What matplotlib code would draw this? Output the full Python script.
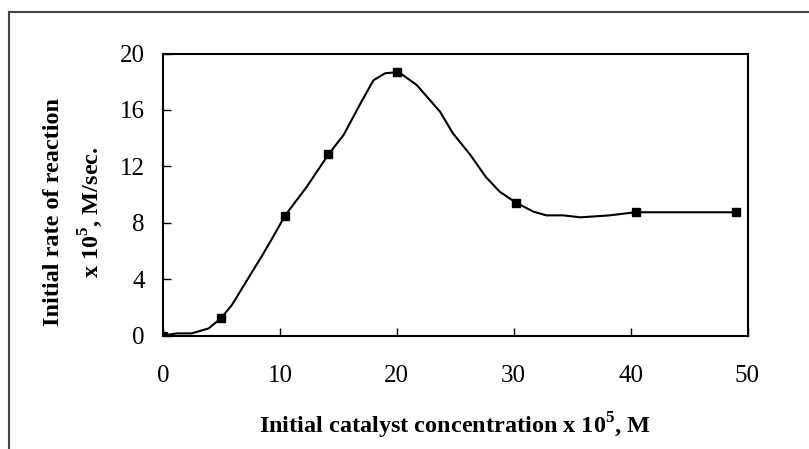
import matplotlib
matplotlib.use("Agg")
import matplotlib.pyplot as plt
from matplotlib.lines import Line2D

# measured points (markers)
conc = [0, 4.95, 10.4, 14.15, 20.0, 30.2, 40.45, 49.0]
rate = [0.0, 1.22, 8.46, 12.84, 18.67, 9.42, 8.74, 8.74]

# smooth curve drawn through the data
curve_x = [0, 1.2, 2.45, 3.9, 4.95, 5.9, 7.2, 8.6, 9.75, 10.4, 12.3, 14.15,
           15.45, 16.9, 18.0, 19.0, 20.0, 20.3, 21.7, 23.7, 24.8, 26.3,
           27.6, 28.8, 30.2, 31.7, 32.8, 34.25, 35.7, 38.2, 39.7, 40.45, 49.0]
curve_y = [0.0, 0.15, 0.15, 0.5, 1.22, 2.17, 3.94, 5.83, 7.48, 8.46, 10.55,
           12.84, 14.22, 16.47, 18.1, 18.6, 18.67, 18.6, 17.77, 15.87, 14.34,
           12.8, 11.26, 10.2, 9.42, 8.78, 8.52, 8.52, 8.38, 8.52, 8.67,
           8.74, 8.74]

xticks = [0, 10, 20, 30, 40, 50]
yticks = [0, 4, 8, 12, 16, 20]

plt.rcParams['font.family'] = ['Liberation Serif', 'DejaVu Serif']
plt.rcParams['mathtext.fontset'] = 'custom'
plt.rcParams['mathtext.bf'] = 'Liberation Serif:bold'
plt.rcParams['mathtext.rm'] = 'Liberation Serif'

fig = plt.figure(figsize=(8.09, 4.49), dpi=100)
ax = fig.add_axes([163 / 809, 1 - 335.5 / 449, 584.5 / 809, 282 / 449])

ax.plot(curve_x, curve_y, color="black", linewidth=1.5)
ax.plot(conc, rate, linestyle="none", marker="s", markersize=5.5,
        color="black")

ax.set_xlim(0, 50)
ax.set_ylim(0, 20)
ax.set_xticks(xticks)
ax.set_yticks(yticks)
ax.tick_params(direction="in", length=6, width=1, labelsize=18)
ax.tick_params(axis="x", pad=21)
ax.tick_params(axis="y", pad=13)
for s in ax.spines.values():
    s.set_linewidth(1.5)

ax.set_xlabel(r"Initial catalyst concentration x 10$^{\mathbf{5}}$, M",
              fontsize=17.5, fontweight="bold", labelpad=17)
ax.set_ylabel("Initial rate of reaction\n" + r"x 10$^{\mathbf{5}}$, M/sec.",
              fontsize=17.5, fontweight="bold", linespacing=1.55)
ax.yaxis.set_label_coords(-0.1, 0.438)

# outer frame (partially visible)
fig.add_artist(Line2D([9 / 809, 1], [1 - 12 / 449, 1 - 12 / 449],
                      transform=fig.transFigure, color="#444444", lw=1.5))
fig.add_artist(Line2D([9 / 809, 9 / 809], [0, 1 - 12 / 449],
                      transform=fig.transFigure, color="#444444", lw=1.5))

plt.savefig("out.png", dpi=100)
plt.close()
